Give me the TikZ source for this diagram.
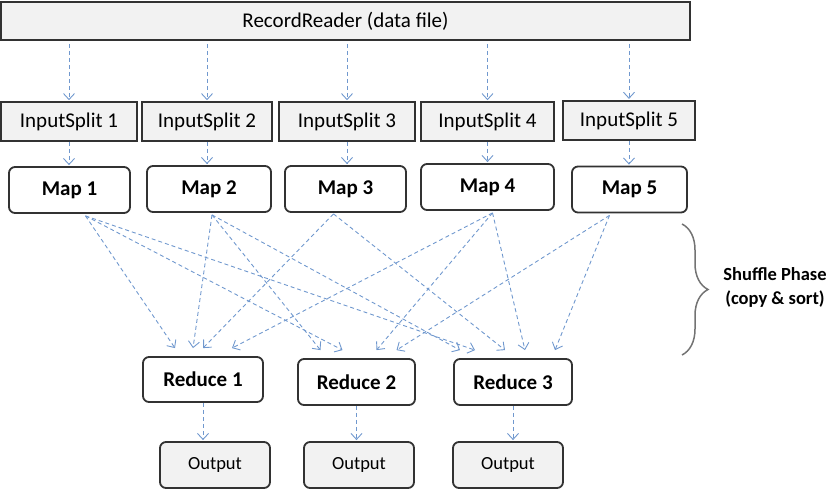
\documentclass[tikz,border=0pt]{standalone}
\usepackage{fontspec}
\setmainfont{Carlito}
\usetikzlibrary{calc,arrows.meta,decorations.pathreplacing}
\definecolor{flowblue}{RGB}{112,152,206}
\definecolor{boxgray}{RGB}{242,242,242}
\definecolor{edgegray}{RGB}{50,50,50}
\tikzset{>={Straight Barb[length=6pt,width=11pt]}}

\begin{document}
\begin{tikzpicture}[x=1pt,y=-1pt,
        every node/.style={inner sep=0pt,font=\fontsize{21}{24}\selectfont},
        splitbox/.style={draw=edgegray,line width=1.6pt,fill=boxgray,minimum height=39pt},
        mapbox/.style={draw=edgegray,line width=1.8pt,fill=white,rounded corners=6pt,
          minimum height=46pt,font=\fontsize{21}{24}\selectfont\bfseries},
        outbox/.style={draw=edgegray,line width=1.8pt,fill=boxgray,rounded corners=6pt,
          minimum height=46pt,minimum width=110pt,font=\fontsize{18.5}{22}\selectfont},
        flow/.style={draw=flowblue,line width=0.9pt,dash pattern=on 4pt off 3pt,->}]
  \useasboundingbox (0,0) rectangle (830,493);
  \clip (0,0) rectangle (830,493);

  \node[splitbox,minimum width=689pt,minimum height=38pt] (rr) at (345.5,21) {RecordReader (data file)};

  \node[splitbox,minimum width=136pt] (s1) at (69,121.5) {InputSplit 1};
  \node[splitbox,minimum width=130pt] (s2) at (207,121.5) {InputSplit 2};
  \node[splitbox,minimum width=136pt] (s3) at (347,121.5) {InputSplit 3};
  \node[splitbox,minimum width=133pt] (s4) at (487.5,121.5) {InputSplit 4};
  \node[splitbox,minimum width=132pt,line width=2.2pt] (s5) at (629,120.5) {InputSplit 5};

  \node[mapbox,minimum width=121pt] (m1) at (69.5,190) {Map 1};
  \node[mapbox,minimum width=124pt] (m2) at (209,189) {Map 2};
  \node[mapbox,minimum width=121pt] (m3) at (345.5,189) {Map 3};
  \node[mapbox,minimum width=133pt] (m4) at (487.5,187) {Map 4};
  \node[mapbox,minimum width=115pt] (m5) at (629.5,189.5) {Map 5};

  \node[mapbox,minimum width=120pt,minimum height=45pt] (r1) at (203,379.5) {Reduce 1};
  \node[mapbox,minimum width=117pt] (r2) at (356.5,382) {Reduce 2};
  \node[mapbox,minimum width=118pt] (r3) at (513,382) {Reduce 3};

  \node[outbox] (o1) at (215,465) {Output};
  \node[outbox] (o2) at (359,465) {Output};
  \node[outbox] (o3) at (508,465) {Output};

  % record reader to the splits, splits to the maps
  \foreach \n in {1,...,5} {
    \draw[flow,shorten <=3pt,shorten >=1pt] (s\n.north |- rr.south) -- (s\n.north);
    \draw[flow,shorten >=1pt] (s\n.south) -- (s\n.south |- m\n.north);
  }

  % shuffle
  \draw[flow] ([xshift=16pt,yshift=-2pt]m1.south) -- ([xshift=-28pt,yshift=8pt]r1.north);
  \draw[flow] ([xshift=16pt,yshift=-2pt]m1.south) -- ([xshift=-14pt,yshift=8pt]r2.north);
  \draw[flow] ([xshift=16pt,yshift=-2pt]m1.south) -- ([xshift=-38pt,yshift=8pt]r3.north);
  \draw[flow] ([xshift=3pt,yshift=-2pt]m2.south) -- ([xshift=-10pt,yshift=8pt]r1.north);
  \draw[flow] ([xshift=3pt,yshift=-2pt]m2.south) -- ([xshift=-36pt,yshift=8pt]r2.north);
  \draw[flow] ([xshift=3pt,yshift=-2pt]m2.south) -- ([xshift=-53pt,yshift=8pt]r3.north);
  \draw[flow] ([xshift=-12pt,yshift=-1pt]m3.south) -- ([yshift=8pt]r1.north);
  \draw[flow] ([xshift=-12pt,yshift=-1pt]m3.south) -- ([xshift=-8pt,yshift=8pt]r3.north);
  \draw[flow] ([xshift=5pt,yshift=-2pt]m4.south) -- ([xshift=29pt,yshift=8pt]r1.north);
  \draw[flow] ([xshift=5pt,yshift=-2pt]m4.south) -- ([xshift=20pt,yshift=8pt]r2.north);
  \draw[flow] ([xshift=5pt,yshift=-2pt]m4.south) -- ([xshift=12pt,yshift=8pt]r3.north);
  \draw[flow] ([xshift=-20pt,yshift=-2pt]m5.south) -- ([xshift=40pt,yshift=8pt]r2.north);
  \draw[flow] ([xshift=-20pt,yshift=-2pt]m5.south) -- ([xshift=42pt,yshift=8pt]r3.north);

  % reducers to the outputs
  \draw[flow,shorten >=1pt] (r1.south) -- (r1.south |- o1.north);
  \draw[flow,shorten >=1pt] (r2.south) -- (r2.south |- o2.north);
  \draw[flow,shorten >=1pt] (r3.south) -- (r3.south |- o3.north);

  \draw[draw=gray!90!black,line width=1.5pt,decorate,decoration={brace,amplitude=26pt,aspect=0.5}]
    (682,224) -- (682,355);
  \node[align=center,font=\fontsize{18.5}{24}\selectfont\bfseries] (shuffle) at (775,287)
    {Shuffle Phase\\(copy \& sort)};
\end{tikzpicture}
\end{document}
